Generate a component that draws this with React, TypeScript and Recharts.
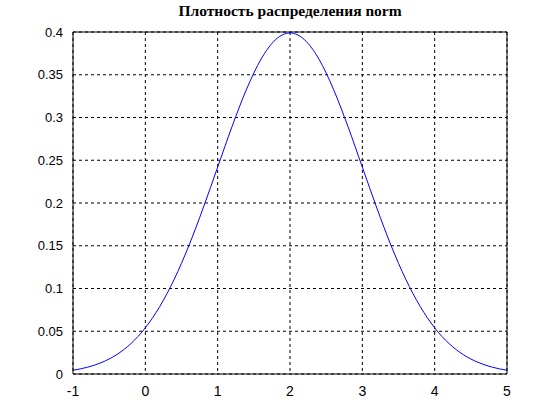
import { LineChart, Line, XAxis, YAxis, CartesianGrid, ReferenceLine } from 'recharts'

// x positions along the curve
const xValues = [
  -1, -0.8, -0.6, -0.4, -0.2, 0, 0.2, 0.4, 0.6, 0.8,
  1, 1.2, 1.4, 1.6, 1.8, 2, 2.2, 2.4, 2.6, 2.8,
  3, 3.2, 3.4, 3.6, 3.8, 4, 4.2, 4.4, 4.6, 4.8, 5,
]

// density values
const density = [
  0.0044, 0.0079, 0.0136, 0.0224, 0.0355, 0.054, 0.079, 0.1109, 0.1497, 0.1942,
  0.242, 0.2897, 0.3332, 0.3683, 0.391, 0.3989, 0.391, 0.3683, 0.3332, 0.2897,
  0.242, 0.1942, 0.1497, 0.1109, 0.079, 0.054, 0.0355, 0.0224, 0.0136, 0.0079, 0.0044,
]

const xTicks = [-1, 0, 1, 2, 3, 4, 5]
const yTicks = [0, 0.05, 0.1, 0.15, 0.2, 0.25, 0.3, 0.35, 0.4]

const data = xValues.map((x, i) => ({ x, y: density[i] }))

const font = '"Liberation Sans", Arial, sans-serif'

export default function App() {
  return (
    <div style={{ position: 'absolute', left: 0, top: 0, width: 560, height: 420, background: '#fff' }}>
      <div
        style={{
          position: 'absolute',
          left: 73,
          width: 434,
          top: 2,
          textAlign: 'center',
          fontFamily: '"Liberation Serif", "Times New Roman", serif',
          fontWeight: 'bold',
          fontSize: 15.5,
          color: '#000',
        }}
      >
        Плотность распределения norm
      </div>
      <LineChart width={560} height={420} data={data} margin={{ top: 32, right: 53, bottom: 16, left: 33 }}>
        <CartesianGrid stroke="#000" strokeDasharray="3 3" />
        <XAxis
          dataKey="x"
          type="number"
          domain={[-1, 5]}
          ticks={xTicks}
          height={30}
          tick={{ fontSize: 14, fill: '#000', fontFamily: font }}
          tickLine={false}
          tickMargin={6}
          axisLine={{ stroke: '#000' }}
          allowDataOverflow
        />
        <YAxis
          type="number"
          domain={[0, 0.4]}
          ticks={yTicks}
          width={40}
          tick={{ fontSize: 13, fill: '#000', fontFamily: font }}
          tickLine={false}
          tickMargin={4}
          axisLine={{ stroke: '#000' }}
          allowDataOverflow
        />
        <ReferenceLine y={0.4} stroke="#000" />
        <ReferenceLine x={5} stroke="#000" />
        <Line
          type="monotone"
          dataKey="y"
          stroke="#0000ff"
          strokeWidth={1}
          dot={false}
          isAnimationActive={false}
        />
      </LineChart>
    </div>
  )
}
